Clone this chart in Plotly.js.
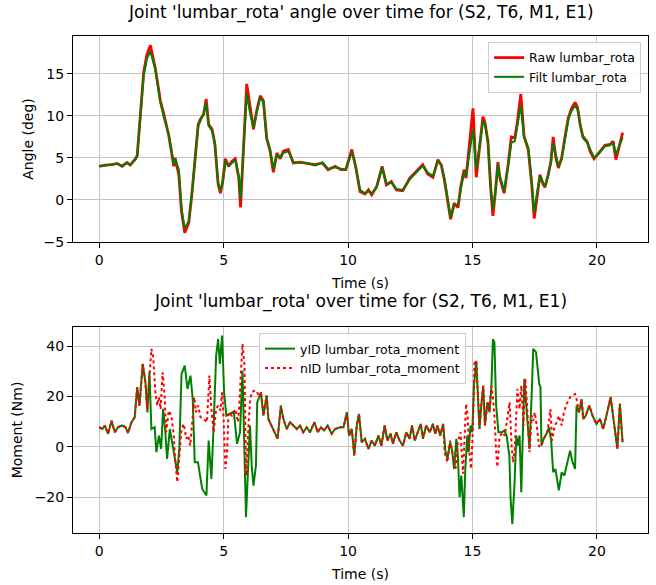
<!DOCTYPE html>
<html>
<head>
<meta charset="utf-8">
<script src="https://cdn.plot.ly/plotly-3.0.1.min.js"></script>
<style>html,body{margin:0;padding:0;background:#fff;}</style>
</head>
<body>
<div id="chart" style="width:656px;height:585px;"></div>
<script>
// ---- Top panel: joint angle ----
const tAngle = [0.00,0.25,0.52,0.72,0.92,1.12,1.25,1.46,1.53,1.66,1.79,1.92,2.06,2.26,2.46,2.60,2.80,3.00,3.05,3.20,3.31,3.44,3.60,3.73,3.87,3.98,4.07,4.20,4.30,4.40,4.54,4.65,4.78,4.87,4.96,5.07,5.20,5.34,5.47,5.61,5.68,5.80,5.93,6.06,6.20,6.33,6.47,6.60,6.73,6.87,7.00,7.14,7.27,7.40,7.60,7.80,8.07,8.34,8.67,8.97,9.20,9.48,9.72,9.91,10.15,10.31,10.48,10.68,10.82,10.95,11.15,11.37,11.54,11.74,11.94,12.20,12.48,12.74,13.00,13.20,13.41,13.61,13.75,13.88,14.02,14.12,14.26,14.42,14.53,14.66,14.74,14.85,15.02,15.15,15.29,15.42,15.50,15.62,15.73,15.82,15.92,16.02,16.10,16.27,16.43,16.56,16.70,16.80,16.94,17.07,17.24,17.38,17.48,17.58,17.71,17.83,17.91,18.04,18.15,18.24,18.35,18.45,18.58,18.71,18.85,18.98,19.12,19.22,19.32,19.43,19.61,19.72,19.88,20.05,20.32,20.52,20.65,20.76,20.90,21.03];
const filtAngle = [4.05,4.1,4.25,4.3,4.05,4.4,4.2,4.8,5.2,10.0,14.8,16.8,17.7,15.5,11.6,9.8,7.8,4.25,4.8,3.65,-1.1,-3.4,-2.5,0.9,5.2,8.8,9.4,10.4,11.6,8.8,8.2,6.8,2.1,1.1,2.0,4.6,4.1,4.4,4.8,2.85,0.1,6.8,12.6,10.4,8.6,10.4,12.2,11.6,7.2,6.0,3.65,5.4,5.0,5.6,5.8,4.5,4.45,4.4,4.1,4.45,3.7,3.9,3.7,3.65,5.7,4.0,1.2,0.8,1.05,0.8,1.5,3.85,1.9,2.05,1.3,1.2,2.45,3.25,4.05,3.25,2.85,4.6,4.2,2.45,-0.3,-2.1,-0.7,-0.5,1.3,3.25,2.85,5.2,8.4,3.65,6.4,9.4,9.0,6.8,1.65,-1.1,0.9,4.25,2.85,1.05,4.0,6.8,7.0,8.8,11.3,7.4,6.2,2.1,-1.5,0.6,2.85,2.05,1.65,2.85,4.45,6.8,5.2,4.05,4.8,7.2,9.6,10.6,11.2,10.8,9.2,7.4,6.8,6.0,5.05,5.4,6.4,6.5,6.8,5.4,6.4,7.4];
const rawAngle = [4.0,4.15,4.2,4.35,4.0,4.45,4.15,4.9,5.3,10.2,15.2,17.3,18.4,15.6,11.8,10.2,7.6,4.0,5.0,3.0,-1.4,-3.9,-2.7,0.8,5.4,9.0,9.6,10.2,12.0,9.0,8.4,6.6,1.9,0.8,2.1,4.9,4.0,4.6,4.9,2.6,-0.9,7.0,13.8,11.2,8.4,10.6,12.4,11.8,7.4,5.8,3.3,5.6,4.9,5.8,6.0,4.4,4.5,4.35,4.2,4.4,3.6,4.0,3.6,3.6,6.0,3.9,1.0,0.7,1.2,0.6,1.6,4.0,1.8,2.2,1.2,1.1,2.6,3.4,4.2,3.1,2.7,4.8,4.1,2.2,-0.8,-2.3,-0.4,-0.9,1.6,3.6,2.6,5.8,10.9,2.7,6.8,9.9,9.2,7.0,1.4,-1.9,1.0,4.5,2.6,0.8,4.2,7.5,7.4,9.2,12.6,7.6,6.0,1.8,-2.2,0.4,3.0,1.9,1.5,3.0,4.6,7.5,5.0,3.8,5.0,7.4,9.8,10.9,11.6,11.0,9.0,7.6,6.9,5.8,4.9,5.5,6.5,6.6,7.0,4.8,6.6,8.0];

// ---- Bottom panel: joint moment ----
const tYid = [0.00,0.13,0.23,0.36,0.50,0.63,0.76,0.92,1.06,1.16,1.30,1.43,1.53,1.62,1.75,1.86,1.94,2.02,2.10,2.23,2.30,2.40,2.49,2.57,2.66,2.73,2.84,2.93,3.04,3.14,3.22,3.31,3.44,3.55,3.67,3.76,3.84,3.97,4.14,4.31,4.40,4.51,4.60,4.70,4.78,4.85,4.94,5.02,5.11,5.24,5.41,5.54,5.66,5.76,5.84,5.90,6.00,6.06,6.13,6.20,6.30,6.35,6.43,6.50,6.60,6.73,6.80,6.92,7.04,7.17,7.30,7.40,7.54,7.67,7.80,7.94,8.07,8.20,8.34,8.47,8.65,8.78,8.91,9.04,9.18,9.34,9.48,9.68,9.82,9.95,10.04,10.15,10.25,10.35,10.44,10.55,10.68,10.82,10.95,11.08,11.22,11.34,11.47,11.58,11.71,11.80,11.94,12.07,12.21,12.34,12.47,12.57,12.68,12.78,12.92,13.01,13.14,13.28,13.41,13.50,13.59,13.70,13.82,13.91,13.99,14.10,14.18,14.26,14.35,14.41,14.48,14.55,14.65,14.71,14.79,14.84,14.92,14.99,15.06,15.15,15.22,15.28,15.35,15.43,15.50,15.60,15.68,15.76,15.82,15.88,15.95,16.04,16.18,16.28,16.37,16.48,16.53,16.60,16.69,16.76,16.82,16.89,16.96,17.03,17.08,17.15,17.22,17.29,17.38,17.44,17.55,17.68,17.73,17.77,17.86,18.00,18.07,18.16,18.24,18.33,18.47,18.58,18.69,18.78,18.92,19.00,19.12,19.18,19.28,19.38,19.45,19.55,19.69,19.82,19.98,20.12,20.25,20.38,20.55,20.68,20.82,20.92,21.03];
const yidMoment = [7.8,7.1,8.5,5.2,10.4,5.8,7.8,8.5,7.8,5.5,9.8,11.8,23.7,16.4,32.9,25.6,13.7,29.6,7.1,7.8,-2.1,4.5,-0.8,15.1,5.8,-4.8,7.1,1.8,-3.5,-10.1,-0.8,29.0,32.3,23.0,28.3,19.0,-6.1,-6.1,-16.7,-19.3,2.5,-12.7,8.5,36.2,42.8,32.9,44.2,21.7,12.4,13.0,14.0,1.2,5.8,30.3,1.8,-27.9,-4.8,8.5,-7.4,-15.4,-7.4,17.7,19.7,21.7,12.4,20.4,11.1,8.5,5.8,3.2,16.4,11.1,7.1,9.8,8.5,7.1,8.5,5.8,7.8,5.8,9.8,5.8,7.8,6.5,8.5,5.2,7.1,7.8,7.8,13.7,4.5,7.1,-3.5,8.5,13.1,1.8,3.2,-0.8,2.5,0.5,4.5,0.5,8.5,2.5,5.2,1.2,5.8,2.5,0.5,5.8,3.2,8.5,2.5,5.2,9.1,3.2,8.5,5.8,9.1,5.2,8.5,4.5,9.1,-1.5,-4.8,1.8,-1.5,-8.7,3.2,-3.5,-20.0,-11.4,-27.9,-8.8,4.5,-2.1,8.5,5.8,24.3,34.2,20.4,7.1,16.4,24.3,8.5,17.7,13.7,24.3,42.8,41.5,16.4,5.8,5.8,6.5,4.5,-3.5,-20.6,-30.7,-14.0,4.5,0.5,4.5,-18.0,13.7,27.0,17.7,8.5,-0.8,21.7,38.9,37.6,25.0,23.7,0.5,3.2,5.8,7.8,2.5,-10.1,-8.8,-17.3,-10.1,-11.4,-7.4,-1.5,-5.4,-8.8,16.4,13.7,19.0,11.1,12.4,16.4,12.4,9.1,11.1,7.1,12.4,19.7,9.8,-0.8,17.1,1.8];

const tNid = [0.00,0.13,0.23,0.36,0.50,0.63,0.76,0.92,1.06,1.16,1.30,1.43,1.53,1.62,1.75,1.86,1.93,2.02,2.10,2.17,2.26,2.33,2.40,2.47,2.55,2.63,2.69,2.80,2.90,3.00,3.05,3.14,3.22,3.31,3.40,3.50,3.58,3.66,3.74,3.82,3.89,3.98,4.07,4.20,4.33,4.43,4.51,4.60,4.70,4.78,4.87,4.94,5.00,5.07,5.14,5.20,5.33,5.47,5.58,5.63,5.69,5.76,5.84,5.90,6.00,6.06,6.13,6.24,6.33,6.43,6.50,6.60,6.73,6.80,6.92,7.04,7.17,7.30,7.40,7.54,7.67,7.80,7.94,8.07,8.20,8.34,8.47,8.65,8.78,8.91,9.04,9.18,9.34,9.48,9.68,9.82,9.95,10.04,10.15,10.25,10.35,10.44,10.55,10.68,10.82,10.95,11.08,11.22,11.34,11.47,11.58,11.71,11.80,11.94,12.07,12.21,12.34,12.47,12.57,12.68,12.78,12.92,13.01,13.14,13.28,13.41,13.50,13.59,13.70,13.82,13.88,13.99,14.10,14.22,14.32,14.41,14.52,14.62,14.69,14.74,14.81,14.87,14.94,15.00,15.08,15.15,15.22,15.28,15.35,15.43,15.50,15.60,15.68,15.76,15.82,15.88,15.95,16.00,16.08,16.18,16.30,16.43,16.49,16.57,16.63,16.70,16.76,16.80,16.89,16.96,17.05,17.12,17.20,17.29,17.38,17.44,17.50,17.58,17.68,17.77,17.86,18.00,18.07,18.13,18.20,18.30,18.39,18.47,18.58,18.67,18.78,18.92,19.03,19.12,19.18,19.28,19.38,19.45,19.55,19.69,19.82,19.98,20.12,20.25,20.38,20.55,20.68,20.82,20.92,21.03];
const nidMoment = [7.8,7.1,8.5,5.2,10.4,5.8,7.8,8.5,7.8,5.5,9.8,11.8,23.7,16.4,32.9,25.6,15.0,29.6,38.9,36.0,21.7,16.4,19.7,15.0,29.6,20.4,5.8,14.4,12.4,4.5,-4.8,-14.0,-2.1,7.1,9.1,3.2,4.5,0.5,9.8,19.7,13.7,16.4,11.8,11.1,9.8,28.3,15.0,5.8,15.0,16.4,14.4,21.7,11.1,-8.7,-2.1,13.7,12.4,15.0,9.8,16.4,28.3,40.9,32.3,-11.4,8.5,17.7,21.7,22.3,22.3,19.7,21.7,12.4,20.4,11.1,8.5,5.8,3.2,16.4,11.1,7.1,9.8,8.5,7.1,8.5,5.8,7.8,5.8,9.8,5.8,7.8,6.5,8.5,5.2,7.1,7.8,7.8,13.7,4.5,7.1,-3.5,8.5,13.1,1.8,3.2,-0.8,2.5,0.5,4.5,0.5,8.5,2.5,5.2,1.2,5.8,2.5,0.5,5.8,3.2,8.5,2.5,5.2,9.1,3.2,8.5,5.8,9.1,5.2,8.5,4.5,9.1,-2.1,-6.1,2.5,-4.1,-8.7,1.8,5.8,-10.7,8.5,17.1,11.1,-2.1,-8.7,3.2,33.5,34.2,20.4,7.1,16.4,24.3,8.5,17.7,13.7,24.3,19.7,12.4,-2.1,-8.0,3.2,5.8,4.5,13.1,17.7,0.5,-6.1,-0.8,17.7,23.0,15.0,24.3,8.5,27.0,15.0,-2.1,12.4,10.4,13.7,8.5,0.0,1.2,3.2,5.8,9.8,15.0,2.5,8.5,9.8,12.4,8.5,13.7,17.1,19.7,20.4,21.0,19.0,13.7,19.0,11.1,12.4,16.4,12.4,9.1,11.1,7.1,12.4,19.7,9.8,-0.8,17.1,1.8];

const xTicks = [0, 5, 10, 15, 20];
const angleTicks = [-5, 0, 5, 10, 15];
const momentTicks = [-20, 0, 20, 40];

const FONT = 'DejaVu Sans, Liberation Sans, sans-serif';
const axisCommon = {
  showline: true, mirror: true, linecolor: 'black', linewidth: 1,
  ticks: 'outside', ticklen: 5, tickwidth: 1, tickcolor: 'black',
  showgrid: true, gridcolor: '#c4c4c4', gridwidth: 1, zeroline: false,
  tickfont: {family: FONT, size: 14, color: 'black'}
};

const traces = [
  {x: tAngle, y: rawAngle, type: 'scatter', mode: 'lines', name: 'Raw lumbar_rota',
   line: {color: '#ff0000', width: 2.8}, xaxis: 'x', yaxis: 'y', legend: 'legend'},
  {x: tAngle, y: filtAngle, type: 'scatter', mode: 'lines', name: 'Filt lumbar_rota',
   line: {color: '#008000', width: 2}, xaxis: 'x', yaxis: 'y', legend: 'legend'},
  {x: tYid, y: yidMoment, type: 'scatter', mode: 'lines', name: 'yID lumbar_rota_moment',
   line: {color: '#008000', width: 2}, xaxis: 'x2', yaxis: 'y2', legend: 'legend2'},
  {x: tNid, y: nidMoment, type: 'scatter', mode: 'lines', name: 'nID lumbar_rota_moment',
   line: {color: '#ff0000', width: 2, dash: 'dot'}, xaxis: 'x2', yaxis: 'y2', legend: 'legend2'}
];

const legendCommon = {
  bgcolor: 'rgba(255,255,255,0.85)', bordercolor: '#cccccc', borderwidth: 1,
  font: {family: FONT, size: 12.5, color: 'black'}, tracegroupgap: 0
};

const layout = {
  width: 656, height: 585,
  margin: {l: 73, r: 8, t: 36, b: 52},
  paper_bgcolor: 'white', plot_bgcolor: 'white',
  font: {family: FONT, size: 14, color: 'black'},
  showlegend: true,
  xaxis: Object.assign({}, axisCommon, {domain: [0, 1], anchor: 'y', range: [-1.05, 22.05],
    tickvals: xTicks, title: {text: 'Time (s)', font: {family: FONT, size: 14}, standoff: 11}}),
  yaxis: Object.assign({}, axisCommon, {domain: [0.5855, 1], anchor: 'x', range: [-5.0, 19.5],
    tickvals: angleTicks, title: {text: 'Angle (deg)', font: {family: FONT, size: 14}, standoff: 6}}),
  xaxis2: Object.assign({}, axisCommon, {domain: [0, 1], anchor: 'y2', range: [-1.05, 22.05],
    tickvals: xTicks, title: {text: 'Time (s)', font: {family: FONT, size: 14}, standoff: 11}}),
  yaxis2: Object.assign({}, axisCommon, {domain: [0, 0.4145], anchor: 'x2', range: [-34.2, 47.6],
    tickvals: momentTicks, title: {text: 'Moment (Nm)', font: {family: FONT, size: 14}, standoff: 8}}),
  legend: Object.assign({}, legendCommon, {x: 0.988, y: 0.988, xanchor: 'right', yanchor: 'top'}),
  legend2: Object.assign({}, legendCommon, {x: 0.3235, y: 0.4024, xanchor: 'left', yanchor: 'top'}),
  annotations: [
    {text: "Joint 'lumbar_rota' angle over time for (S2, T6, M1, E1)", xref: 'paper', yref: 'paper',
     x: 0.5, y: 1.048, xanchor: 'center', yanchor: 'middle', showarrow: false,
     font: {family: FONT, size: 17, color: 'black'}},
    {text: "Joint 'lumbar_rota' over time for (S2, T6, M1, E1)", xref: 'paper', yref: 'paper',
     x: 0.5, y: 0.4668, xanchor: 'center', yanchor: 'middle', showarrow: false,
     font: {family: FONT, size: 17, color: 'black'}}
  ]
};

Plotly.newPlot('chart', traces, layout, {displayModeBar: false, staticPlot: true});
</script>
</body>
</html>
